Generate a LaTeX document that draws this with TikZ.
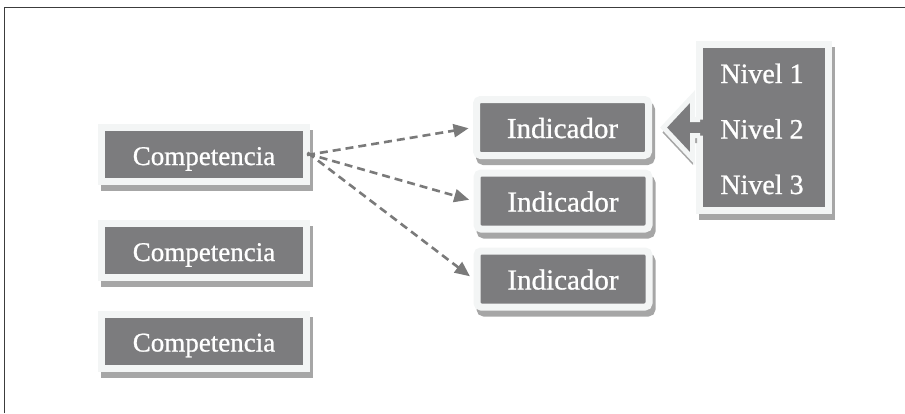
\documentclass[tikz,border=0pt]{standalone}
\usepackage{fontspec}
\setmainfont{Liberation Serif}
\newfontfamily\labelfont{Liberation Serif}[FakeBold=0.9]
\usetikzlibrary{arrows.meta}

\definecolor{boxgray}{HTML}{7C7C7E}
\definecolor{rimwhite}{HTML}{F3F5F5}
\definecolor{shadegray}{HTML}{A6A6A6}
\definecolor{linkgray}{HTML}{7A7A7A}
\definecolor{framedark}{HTML}{3C3C3C}

\begin{document}
\begin{tikzpicture}[x=1pt,y=-1pt,
  labeltext/.style={text=white, font=\labelfont\fontsize{27}{30}\selectfont,
    text height=21pt, text depth=0pt, inner sep=0pt},
  boxbase/.style={labeltext, fill=boxgray, draw=rimwhite, line width=7pt,
    preaction={draw=shadegray, fill=shadegray, line width=7pt,
      transform canvas={shift={(3pt,-6pt)}}}},
  compbox/.style={boxbase, minimum width=205pt, minimum height=54pt},
  indbox/.style={boxbase, font=\labelfont\fontsize{29}{32}\selectfont,
    rounded corners=4pt, minimum width=172pt, minimum height=56pt},
  levelbox/.style={boxbase, minimum width=129pt, minimum height=166pt},
  link/.style={draw=linkgray, line width=2.6pt, dash pattern=on 8pt off 5pt,
    -{Triangle[length=15pt,width=13pt]}, shorten >=4.5pt, shorten <=-3pt}
]
\useasboundingbox (0,0) rectangle (905,413);

% outer frame (top and left edges)
\draw[framedark, line width=1.5pt] (4.5,413) -- (4.5,7.5) -- (905,7.5);

% competencias
\node[compbox] (comp1) at (204,154.5) {Competencia};
\node[compbox] (comp2) at (204,250.5) {Competencia};
\node[compbox] (comp3) at (204,341) {Competencia};

% indicadores
\node[indbox] (ind1) at (562.5,127.5) {Indicador};
\node[indbox] (ind2) at (563,201) {Indicador};
\node[indbox] (ind3) at (563,279) {Indicador};

% niveles
\node[levelbox] (levels) at (764,127.5) {};
\node[labeltext, font=\labelfont\fontsize{28}{31}\selectfont] (nivel1) at (762,72.5) {Nivel 1};
\node[labeltext, font=\labelfont\fontsize{28}{31}\selectfont] (nivel2) at (762,128) {Nivel 2};
\node[labeltext, font=\labelfont\fontsize{28}{31}\selectfont] (nivel3) at (762,183.5) {Nivel 3};

% block arrow from the levels into the first indicator
\fill[shadegray, transform canvas={shift={(3pt,-5pt)}}]
  (694,117) -- (690,117) -- (690,94) -- (659.5,127.5) -- (690,160)
  -- (690,138) -- (694,138) -- cycle;
\fill[boxgray] (704,119.5) -- (692.5,119.5) -- (692.5,96.5) -- (663.5,127.5)
  -- (692.5,158.5) -- (692.5,135.5) -- (704,135.5) -- cycle;
\draw[rimwhite, line width=5pt, line join=miter]
  (700,119.5) -- (692.5,119.5) -- (692.5,96.5) -- (663.5,127.5)
  -- (692.5,158.5) -- (692.5,135.5) -- (700,135.5);

% dashed links from the first competencia
\draw[link] (comp1.east) -- (ind1.west);
\draw[link] (comp1.east) -- (ind2.west);
\draw[link] (comp1.east) -- (ind3.west);
\end{tikzpicture}
\end{document}
